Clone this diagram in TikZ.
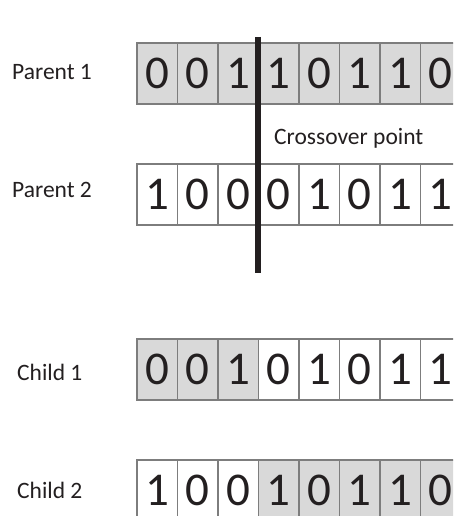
\documentclass[tikz,border=0pt]{standalone}
\usepackage{fontspec}
\setmainfont{Carlito}
\definecolor{cellfill}{RGB}{217,217,217}
\definecolor{cellline}{RGB}{125,125,125}
\definecolor{ink}{RGB}{35,31,32}
\begin{document}
\begin{tikzpicture}[x=1pt,y=-1pt,
  cell/.style={draw=cellline, line width=1.8pt, minimum width=40.5pt, minimum height=61pt,
    inner sep=0pt, outer sep=0pt, font=\fontsize{47}{47}\selectfont, text=ink, anchor=north west},
  shaded/.style={cell, fill=cellfill},
  plain/.style={cell, fill=white},
  lbl/.style={anchor=base west, inner sep=0pt, font=\fontsize{23.5}{25}\selectfont, text=ink},
  cut/.style={draw=ink, line width=5.5pt}]
\useasboundingbox (0,0) rectangle (453,516);
\clip (0,0) rectangle (453,516);
% Parent 1
\foreach \d [count=\i from 0] in {0,0,1,1,0,1,1,0}
  \node[shaded] (pa-\i) at ({137+40.5*\i},43) {\d};
% Parent 2
\foreach \d [count=\i from 0] in {1,0,0,0,1,0,1,1}
  \node[plain] (pb-\i) at ({137+40.5*\i},164) {\d};
% Child 1
\foreach \d [count=\i from 0] in {0,0,1,0,1,0,1,1}
  {\ifnum\i<3 \node[shaded] (ca-\i) at ({137+40.5*\i},339) {\d};
   \else \node[plain] (ca-\i) at ({137+40.5*\i},339) {\d};\fi}
% Child 2
\foreach \d [count=\i from 0] in {1,0,0,1,0,1,1,0}
  {\ifnum\i<3 \node[plain] (cb-\i) at ({137+40.5*\i},460) {\d};
   \else \node[shaded] (cb-\i) at ({137+40.5*\i},460) {\d};\fi}
% labels
\node[lbl] (l1) at (12,80) {Parent 1};
\node[lbl] (l2) at (12,197) {Parent 2};
\node[lbl] (l3) at (17,380) {Child 1};
\node[lbl] (l4) at (17,498) {Child 2};
\node[lbl] (cp) at (274,144) {Crossover point};
% crossover line
\coordinate (ct) at (258,37);
\coordinate (cbt) at (258,273);
\draw[cut] (ct) -- (cbt);
\end{tikzpicture}
\end{document}
